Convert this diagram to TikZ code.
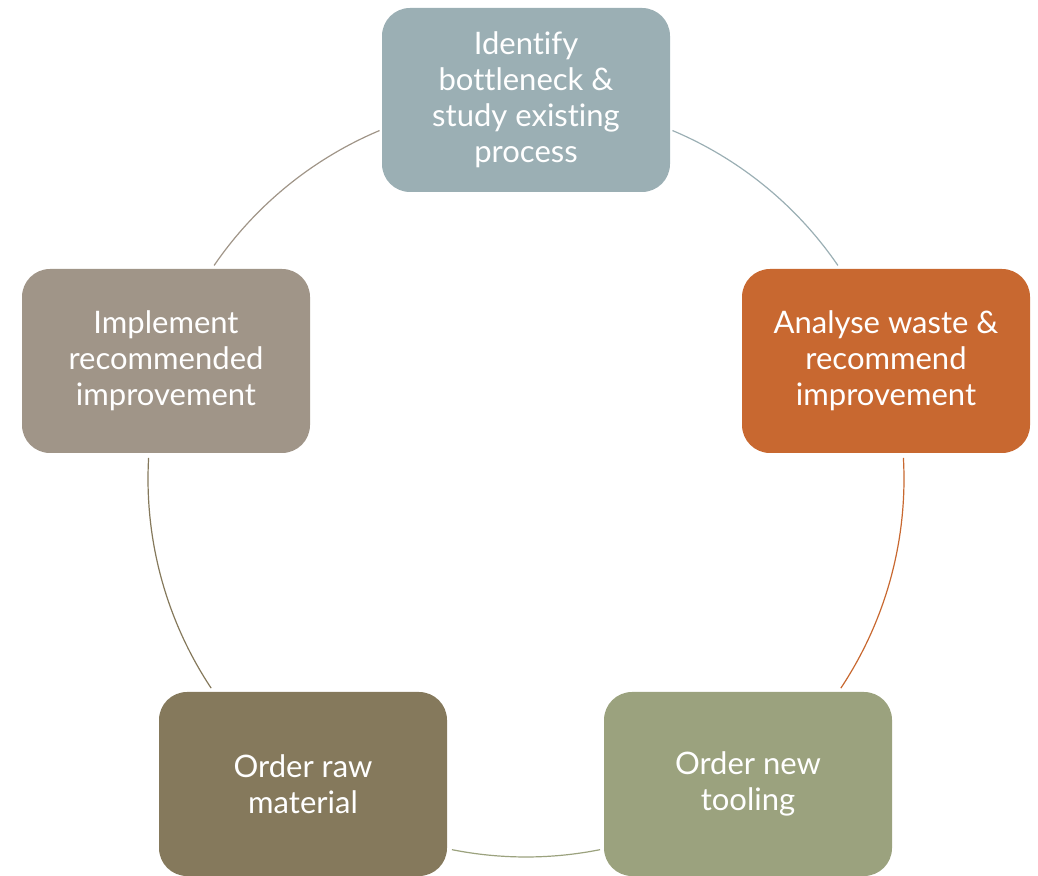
\documentclass[tikz,border=0pt]{standalone}
\usepackage{fontspec}
\setmainfont{Lato}[Ligatures=NoCommon]
\definecolor{cTop}{HTML}{9BAFB4}
\definecolor{cRight}{HTML}{C86830}
\definecolor{cBR}{HTML}{9BA27E}
\definecolor{cBL}{HTML}{85795C}
\definecolor{cLeft}{HTML}{A09588}
\tikzset{
  stepbox/.style={rectangle, rounded corners=28pt, minimum width=288pt, minimum height=184pt,
    text=white, align=center, font=\fontsize{31}{36}\selectfont, inner sep=0pt},
  link/.style={line width=1.2pt}
}
\begin{document}
\begin{tikzpicture}[x=1pt,y=1pt]
\useasboundingbox (0,0) rectangle (1038,875);
\coordinate (c) at (526,396);
\node[stepbox, fill=cTop] (n1) at (526,775) {Identify\\bottleneck \&\\study existing\\process};
\node[stepbox, fill=cRight] (n2) at (886,514) {Analyse waste \&\\recommend\\improvement};
\node[stepbox, fill=cBR] (n3) at (748,91) {Order new\\tooling};
\node[stepbox, fill=cBL] (n4) at (303,91) {Order raw\\material};
\node[stepbox, fill=cLeft] (n5) at (166,514) {Implement\\recommended\\improvement};
\draw[link, cTop] (c) ++(67.2:378) arc[start angle=67.2, end angle=34.4, radius=378];
\draw[link, cRight] (c) ++(3.2:378) arc[start angle=3.2, end angle=-33.6, radius=378];
\draw[link, cBR] (c) ++(-78.7:378) arc[start angle=-78.7, end angle=-101.3, radius=378];
\draw[link, cBL] (c) ++(-146.4:378) arc[start angle=-146.4, end angle=-183.2, radius=378];
\draw[link, cLeft] (c) ++(145.6:378) arc[start angle=145.6, end angle=112.8, radius=378];
\end{tikzpicture}
\end{document}
